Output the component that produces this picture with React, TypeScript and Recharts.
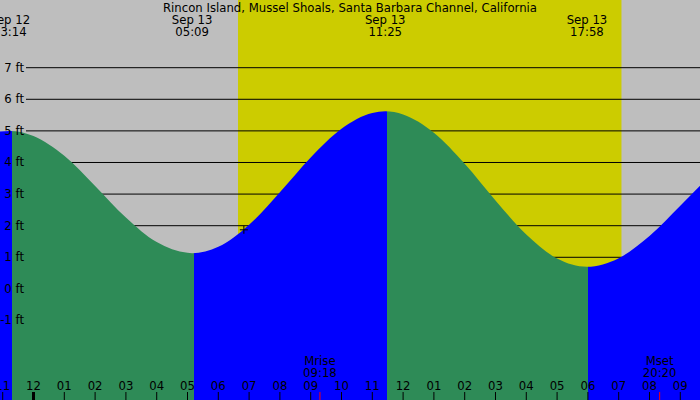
import {
  AreaChart,
  Area,
  XAxis,
  YAxis,
  ReferenceArea,
  ReferenceLine,
  ReferenceDot,
} from 'recharts';

// hours counted from midnight Sep 13
const tideHours = [-1.1, -0.77, 0, 1, 2, 3, 4, 5, 5.15, 6, 7, 8, 9, 10, 11, 11.42, 12, 13, 14, 15, 16, 17, 17.97, 19, 20, 21, 22];
const tideFeet = [4.98, 5.0, 4.84, 4.21, 3.26, 2.26, 1.48, 1.14, 1.13, 1.33, 2.03, 3.06, 4.16, 5.07, 5.57, 5.62, 5.52, 4.94, 3.96, 2.8, 1.72, 0.96, 0.7, 0.97, 1.67, 2.63, 3.62];

const extremeHours = [-0.77, 5.15, 11.42, 17.97];
const extremeKinds = ['H', 'L', 'H', 'L'];
const extremeDates = ['Sep 12', 'Sep 13', 'Sep 13', 'Sep 13'];
const extremeTimes = ['23:14', '05:09', '11:25', '17:58'];
// where the fill turns from rising to falling
const turnHours = [-0.7, 5.21, 11.47, 17.99];

const sunHours = [6.64, 19.09];

const moonHours = [9.3, 20.33];
const moonNames = ['Mrise', 'Mset'];
const moonTimes = ['09:18', '20:20'];

const nowHour = 6.83;
const nowFeet = 1.87;

const hourTicks = [-1, 0, 1, 2, 3, 4, 5, 6, 7, 8, 9, 10, 11, 12, 13, 14, 15, 16, 17, 18, 19, 20, 21];
const hourLabels = ['11', '12', '01', '02', '03', '04', '05', '06', '07', '08', '09', '10', '11', '12', '01', '02', '03', '04', '05', '06', '07', '08', '09'];
const feetTicks = [-1, 0, 1, 2, 3, 4, 5, 6, 7];

const title = 'Rincon Island, Mussel Shoals, Santa Barbara Channel, California';

const W = 700;
const H = 400;
const X_MIN = -1.088;
const X_MAX = 21.64;
const Y_MIN = -3.516;
const Y_MAX = 9.142;

const GRAY = '#bebebe';
const YELLOW = '#cccc00';
const RISE = '#0000ff';
const FALL = '#2e8b57';
const FONT = 'DejaVu Sans, sans-serif';
const FS = 11.7;

const data = tideHours.map((h, i) => ({ h, ft: tideFeet[i] }));

function frac(h: number) {
  return (h - X_MIN) / (X_MAX - X_MIN);
}

function tideStops() {
  const stops = [];
  let color = extremeKinds[0] === 'H' ? RISE : FALL;
  stops.push(<stop key="s0" offset={0} stopColor={color} />);
  turnHours.forEach((h, i) => {
    const next = extremeKinds[i] === 'H' ? FALL : RISE;
    stops.push(<stop key={'a' + i} offset={frac(h)} stopColor={color} />);
    stops.push(<stop key={'b' + i} offset={frac(h)} stopColor={next} />);
    color = next;
  });
  stops.push(<stop key="s1" offset={1} stopColor={color} />);
  return stops;
}

const gridStart = X_MIN + (26 / W) * (X_MAX - X_MIN);
const xMid = X_MIN + 0.5 * (X_MAX - X_MIN);

export default function App() {
  return (
    <div style={{ position: 'absolute', left: 0, top: 0, width: W, height: H, background: GRAY }}>
      <AreaChart
        width={W}
        height={H}
        data={data}
        margin={{ top: 0, right: 0, left: 0, bottom: 0 }}
        style={{ fontFamily: FONT }}
      >
        <defs>
          <linearGradient id="tide" gradientUnits="userSpaceOnUse" x1={0} y1={0} x2={W} y2={0}>
            {tideStops()}
          </linearGradient>
        </defs>
        <XAxis
          dataKey="h"
          type="number"
          domain={[X_MIN, X_MAX]}
          allowDataOverflow
          ticks={hourTicks}
          mirror
          axisLine={false}
          tickLine={false}
          interval={0}
          zIndex={700}
          tick={(p: any) => {
            const i = hourTicks.indexOf(p.payload.value);
            return (
              <g>
                <line
                  x1={p.x}
                  x2={p.x}
                  y1={H - 8}
                  y2={H}
                  stroke="#000"
                  strokeWidth={p.payload.value === 0 ? 3 : 1}
                />
                <text x={p.x} y={H - 10} textAnchor="middle" fontSize={FS} fill="#000" fontFamily={FONT}>
                  {hourLabels[i]}
                </text>
              </g>
            );
          }}
        />
        <YAxis
          type="number"
          domain={[Y_MIN, Y_MAX]}
          allowDataOverflow
          ticks={feetTicks}
          mirror
          axisLine={false}
          tickLine={false}
          interval={0}
          zIndex={700}
          tick={(p: any) => (
            <text x={24} y={p.y + 4} textAnchor="end" fontSize={FS} fill="#000" fontFamily={FONT}>
              {p.payload.value} ft
            </text>
          )}
        />
        <ReferenceArea
          x1={sunHours[0]}
          x2={sunHours[1]}
          fill={YELLOW}
          fillOpacity={1}
          stroke="none"
          ifOverflow="visible"
          zIndex={-300}
        />
        {feetTicks.map((f) => (
          <ReferenceLine
            key={'g' + f}
            segment={[
              { x: gridStart, y: f },
              { x: X_MAX, y: f },
            ]}
            stroke="#000"
            strokeWidth={1}
            ifOverflow="visible"
            zIndex={-200}
          />
        ))}
        <Area
          type="monotone"
          dataKey="ft"
          baseValue="dataMin"
          stroke="none"
          fill="url(#tide)"
          fillOpacity={1}
          isAnimationActive={false}
        />
        <ReferenceDot
          x={nowHour}
          y={nowFeet}
          r={0}
          ifOverflow="visible"
          zIndex={800}
          shape={(p: any) => (
            <g stroke="#000" strokeWidth={1}>
              <line x1={p.cx - 4} x2={p.cx + 4} y1={p.cy} y2={p.cy} />
              <line x1={p.cx} x2={p.cx} y1={p.cy - 4} y2={p.cy + 4} />
            </g>
          )}
        />
        <ReferenceDot
          x={xMid}
          y={Y_MAX}
          r={0}
          ifOverflow="visible"
          zIndex={800}
          shape={(p: any) => (
            <text x={p.cx} y={12} textAnchor="middle" fontSize={FS} fill="#000" fontFamily={FONT}>
              {title}
            </text>
          )}
        />
        {extremeHours.map((h, i) => (
          <ReferenceDot
            key={'e' + i}
            x={h}
            y={Y_MAX}
            r={0}
            ifOverflow="visible"
            zIndex={800}
            shape={(p: any) => (
              <g fontSize={FS} fill="#000" fontFamily={FONT} textAnchor="middle">
                <text x={p.cx} y={24}>{extremeDates[i]}</text>
                <text x={p.cx} y={36}>{extremeTimes[i]}</text>
              </g>
            )}
          />
        ))}
        {moonHours.map((h, i) => (
          <ReferenceDot
            key={'m' + i}
            x={h}
            y={Y_MIN}
            r={0}
            ifOverflow="visible"
            zIndex={800}
            shape={(p: any) => (
              <g>
                <line x1={p.cx} x2={p.cx} y1={H - 8} y2={H} stroke="#ff0000" strokeWidth={1} />
                <g fontSize={FS} fill="#000" fontFamily={FONT} textAnchor="middle">
                  <text x={p.cx} y={H - 35}>{moonNames[i]}</text>
                  <text x={p.cx} y={H - 23}>{moonTimes[i]}</text>
                </g>
              </g>
            )}
          />
        ))}
      </AreaChart>
    </div>
  );
}
